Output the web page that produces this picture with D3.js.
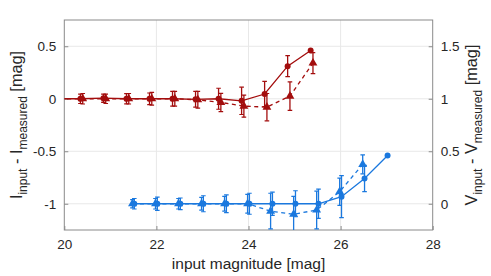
<!DOCTYPE html>
<html><head><meta charset="utf-8">
<script src="https://cdn.jsdelivr.net/npm/d3@7"></script>
<style>body{margin:0;background:#fff}svg{display:block;font-family:"Liberation Sans",Arial,sans-serif}</style>
</head><body><svg id="c" width="491" height="276"></svg>
<script>
const xTicks = [20,22,24,26,28];
const leftTicks = [-1,-0.5,0,0.5];
const rightTicks = [0,0.5,1,1.5];

const redCircleMag = [19.85,20.35,20.85,21.35,21.85,22.35,22.85,23.35,23.85,24.35,24.85,25.35];
const redCircleVal = [0,0,0.005,0,0,0,-0.005,0,-0.02,0.045,0.31,0.46];
const redCircleErr = [0.04,0.045,0.04,0.048,0.055,0.07,0.075,0.1,0.13,0.12,0.1,0];

const redTriMag = [19.9,20.4,20.9,21.4,21.9,22.4,22.9,23.4,23.9,24.4,24.9,25.4];
const redTriVal = [0,0,0,0,0,0,-0.01,-0.035,-0.07,-0.08,0.025,0.34];
const redTriErr = [0.04,0.05,0.045,0.05,0.06,0.07,0.08,0.087,0.105,0.13,0.135,0.1];

const blueCircleMag = [21.52,22.02,22.52,23.02,23.52,24.02,24.52,25.02,25.52,26.02,26.52,27.02];
const blueCircleVal = [0,0,0,0,0,0,0,0,0,0.067,0.24,0.46];
const blueCircleErr = [0.05,0.064,0.055,0.076,0.084,0.1,0.11,0.124,0.14,0.2,0.125,0];

const blueTriMag = [21.48,21.98,22.48,22.98,23.48,23.98,24.48,24.98,25.48,25.98,26.48];
const blueTriVal = [0,0,0,0,0,0,-0.07,-0.1,-0.06,0.115,0.375];
const blueTriErr = [0.04,0.05,0.05,0.06,0.07,0.09,0.17,0.17,0.18,0.13,0.09];

const RED = "#a30d0d", BLUE = "#1a78de";
const L = 64.3, R = 432.7, T = 20, B = 230;
const svg = d3.select("#c");
const x = d3.scaleLinear().domain([20,28]).range([L,R]);
const yL = d3.scaleLinear().domain([-1.25,0.75]).range([B,T]);
const yR = d3.scaleLinear().domain([-0.25,1.75]).range([B,T]);

svg.append("defs").append("clipPath").attr("id","clip")
  .append("rect").attr("x",L).attr("y",T).attr("width",R-L).attr("height",B-T);

// grid
const g = svg.append("g");
g.selectAll(".gx").data(xTicks.slice(1,-1)).join("line")
  .attr("x1",d=>x(d)).attr("x2",d=>x(d)).attr("y1",T).attr("y2",B)
  .attr("stroke","#e8e8e8").attr("stroke-width",1);
g.selectAll(".gy").data(leftTicks).join("line")
  .attr("x1",L).attr("x2",R).attr("y1",d=>yL(d)).attr("y2",d=>yL(d))
  .attr("stroke","#e8e8e8").attr("stroke-width",1);

// axes
const axCol = "#8a8a8a", txtCol = "#262626";
const ax = svg.append("g");
const ab = ax.append("g").attr("transform",`translate(0,${B})`)
  .call(d3.axisBottom(x).tickValues(xTicks).tickSize(-4).tickPadding(9).tickFormat(d3.format("d")));
const al = ax.append("g").attr("transform",`translate(${L},0)`)
  .call(d3.axisLeft(yL).tickValues(leftTicks).tickSize(-4).tickPadding(8).tickFormat(d=>d===0?"0":String(d)));
const ar = ax.append("g").attr("transform",`translate(${R},0)`)
  .call(d3.axisRight(yR).tickValues(rightTicks).tickSize(-4).tickPadding(8).tickFormat(d=>d===0?"0":String(d)));
[ab,al,ar].forEach(a=>{
  a.select(".domain").remove();
  a.selectAll(".tick line").attr("stroke",axCol);
  a.selectAll(".tick text").attr("fill",txtCol).style("font-size","13.5px").style("font-family","Liberation Sans, Arial, sans-serif");
});
ax.append("rect").attr("x",L).attr("y",T).attr("width",R-L).attr("height",B-T)
  .attr("fill","none").attr("stroke",axCol).attr("stroke-width",1);

// series
function series(mags, vals, errs, yS, color, dashed, shape){
  const pts = mags.map((m,i)=>({m, v:vals[i], e:errs[i]}));
  const sg = svg.append("g").attr("clip-path","url(#clip)");
  sg.append("path").datum(pts)
    .attr("d", d3.line().x(d=>x(d.m)).y(d=>yS(d.v)))
    .attr("fill","none").attr("stroke",color).attr("stroke-width",1.3)
    .attr("stroke-dasharray", dashed ? "4,3.5" : null);
  const eb = sg.selectAll(null).data(pts.filter(d=>d.e>0)).join("g");
  eb.append("line").attr("x1",d=>x(d.m)).attr("x2",d=>x(d.m))
    .attr("y1",d=>yS(d.v-d.e)).attr("y2",d=>yS(d.v+d.e)).attr("stroke",color).attr("stroke-width",1.3);
  eb.append("line").attr("x1",d=>x(d.m)-2.3).attr("x2",d=>x(d.m)+2.3)
    .attr("y1",d=>yS(d.v-d.e)).attr("y2",d=>yS(d.v-d.e)).attr("stroke",color).attr("stroke-width",1.2);
  eb.append("line").attr("x1",d=>x(d.m)-2.3).attr("x2",d=>x(d.m)+2.3)
    .attr("y1",d=>yS(d.v+d.e)).attr("y2",d=>yS(d.v+d.e)).attr("stroke",color).attr("stroke-width",1.2);
  sg.selectAll(null).data(pts).join("path")
    .attr("transform",d=>`translate(${x(d.m)},${yS(d.v)})`)
    .attr("d", d3.symbol().type(shape).size(shape===d3.symbolCircle?28:34))
    .attr("fill",color);
}
series(redTriMag, redTriVal, redTriErr, yL, RED, true, d3.symbolTriangle);
series(redCircleMag, redCircleVal, redCircleErr, yL, RED, false, d3.symbolCircle);
series(blueTriMag, blueTriVal, blueTriErr, yR, BLUE, true, d3.symbolTriangle);
series(blueCircleMag, blueCircleVal, blueCircleErr, yR, BLUE, false, d3.symbolCircle);

// labels
svg.append("text").attr("x",(L+R)/2).attr("y",269).attr("text-anchor","middle")
  .attr("fill",txtCol).style("font-size","15.5px").text("input magnitude [mag]");

function ylab(xp, main){
  const t = svg.append("text").attr("transform",`translate(${xp},${(T+B)/2}) rotate(-90)`)
    .attr("text-anchor","middle").attr("fill",txtCol).style("font-size","16.3px");
  t.append("tspan").text(main);
  t.append("tspan").attr("dy",4.5).style("font-size","12px").text("input");
  t.append("tspan").attr("dy",-4.5).text(" - "+main);
  t.append("tspan").attr("dy",4.5).style("font-size","12px").text("measured");
  t.append("tspan").attr("dy",-4.5).text(" [mag]");
}
ylab(22, "I");
ylab(477, "V");
</script></body></html>
